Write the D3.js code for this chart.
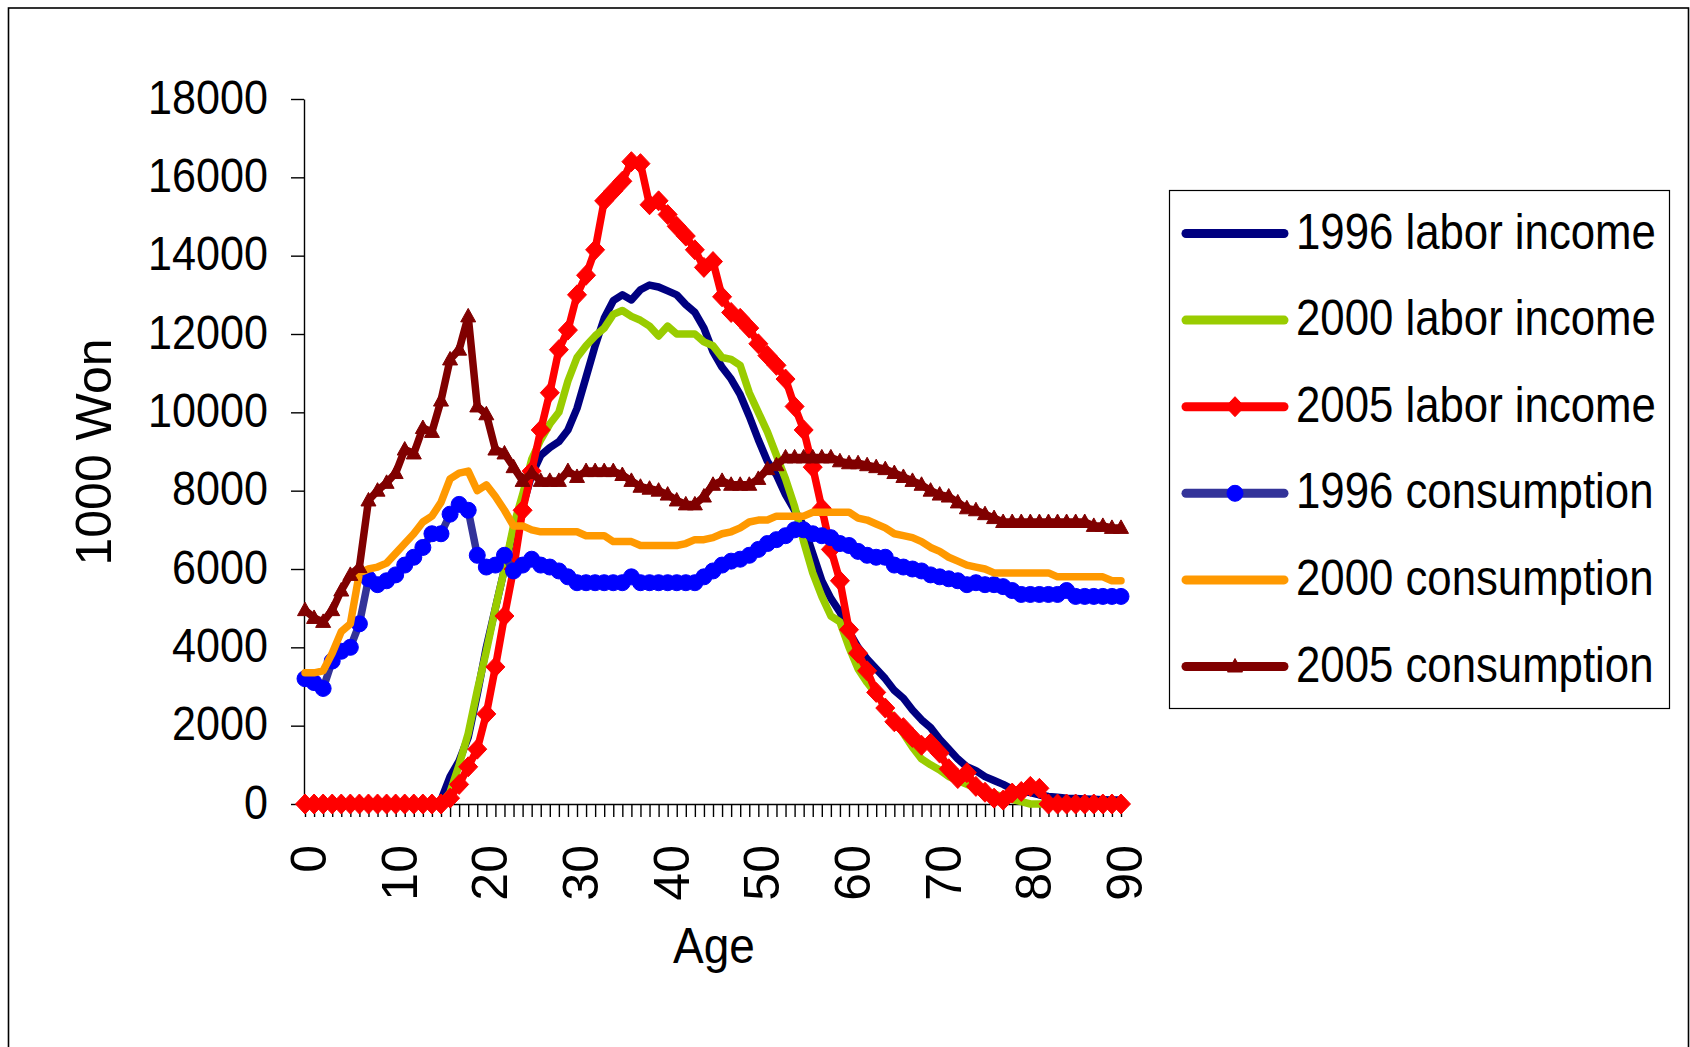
<!DOCTYPE html>
<html>
<head>
<meta charset="utf-8">
<script src="https://cdn.jsdelivr.net/npm/d3@7"></script>
<style>
body { margin: 0; background: #fff; }
text { font-family: "Liberation Sans", Arial, sans-serif; fill: #000; }
</style>
</head>
<body>
<div id="chart"></div>
<script>
var w = 1690,
	h = 1047;

// ages 0..90
var ages = d3.range(0, 91);
var yTicks = d3.range(0, 18001, 2000);

var labor1996 = [0,0,0,0,0,0,0,0,0,0,
	0,0,0,0,0,100,700,1100,1700,2800,
	4000,5000,6000,7000,7600,8400,8900,9100,9250,9550,
	10100,10900,11700,12400,12850,13000,12870,13130,13250,13200,
	13100,13000,12750,12550,12150,11550,11150,10850,10450,9900,
	9300,8750,8400,7900,7500,7100,6400,5700,5250,4900,
	4400,4000,3700,3450,3200,2900,2700,2400,2150,1950,
	1650,1400,1150,950,850,700,600,500,380,320,
	290,230,190,170,150,140,130,120,110,100,
	100];

var labor2000 = [0,0,0,0,0,0,0,0,0,0,
	0,0,0,0,0,0,300,1000,1800,2900,
	3900,5000,6000,7100,7900,8800,9300,9700,10000,10800,
	11400,11700,11950,12150,12500,12600,12450,12350,12200,11950,
	12200,12000,12000,12000,11800,11700,11400,11350,11200,10500,
	10000,9500,8900,8300,7600,6700,5900,5300,4800,4650,
	4000,3450,3100,2800,2500,2150,1800,1450,1150,1000,
	870,700,600,500,400,300,250,180,120,60,
	0,0,0,0,0,0,0,0,0,0,
	0];

var labor2005 = [0,0,0,0,0,0,0,0,0,0,
	0,0,0,0,0,0,150,500,950,1400,
	2300,3500,4800,6000,7500,8500,9550,10500,11600,12100,
	13000,13500,14150,15400,15650,15900,16400,16350,15300,15400,
	15050,14750,14500,14150,13700,13850,12950,12550,12400,12150,
	11750,11450,11200,10850,10150,9550,8600,7550,6500,5700,
	4450,3850,3400,2850,2450,2100,1950,1700,1500,1550,
	1300,900,650,800,450,300,150,100,280,320,
	450,400,0,0,0,0,0,0,0,0,
	0];

var cons1996 = [3200,3100,2950,3650,3900,4000,4600,5750,5600,5700,
	5850,6100,6300,6550,6900,6900,7400,7650,7500,6350,
	6050,6100,6350,5950,6100,6250,6100,6050,5950,5800,
	5650,5650,5650,5650,5650,5650,5800,5650,5650,5650,
	5650,5650,5650,5650,5800,5950,6100,6200,6250,6350,
	6500,6650,6750,6850,7000,7000,6900,6850,6800,6650,
	6600,6450,6350,6300,6300,6100,6050,6000,5950,5850,
	5800,5750,5700,5600,5650,5600,5600,5550,5450,5350,
	5350,5350,5350,5350,5450,5300,5300,5300,5300,5300,
	5300];

var cons2000 = [3350,3350,3400,3850,4400,4600,5900,6000,6050,6150,
	6400,6650,6900,7200,7350,7700,8300,8450,8500,8000,
	8150,7850,7500,7100,7100,7000,6950,6950,6950,6950,
	6950,6850,6850,6850,6700,6700,6700,6600,6600,6600,
	6600,6600,6650,6750,6750,6800,6900,6950,7050,7200,
	7250,7250,7350,7350,7350,7350,7450,7450,7450,7450,
	7450,7300,7250,7150,7050,6900,6850,6800,6700,6550,
	6450,6300,6200,6100,6050,6000,5900,5900,5900,5900,
	5900,5900,5900,5800,5800,5800,5800,5800,5800,5700,
	5700];

var cons2005 = [4950,4750,4650,4950,5450,5850,6050,7750,8000,8200,
	8450,9050,8950,9600,9500,10300,11350,11600,12450,10150,
	9950,9050,8950,8600,8250,8450,8250,8250,8250,8500,
	8350,8500,8500,8500,8500,8400,8250,8100,8050,8000,
	7900,7750,7650,7650,7850,8150,8250,8150,8150,8150,
	8300,8550,8650,8850,8850,8850,8850,8850,8850,8750,
	8700,8700,8650,8600,8550,8450,8350,8250,8150,8000,
	7900,7850,7700,7550,7500,7400,7300,7200,7200,7200,
	7200,7200,7200,7200,7200,7200,7200,7100,7100,7050,
	7050];

var names = ['1996 labor income', '2000 labor income', '2005 labor income',
	'1996 consumption', '2000 consumption', '2005 consumption'];
var lineColors = ['#000080', '#99CC00', '#FF0000', '#333399', '#FF9900', '#800000'];
var markColors = [null, null, '#FF0000', '#0000FF', null, '#800000'];
var markTypes = [null, null, 'diamond', 'circle', null, 'triangle'];
var values = [labor1996, labor2000, labor2005, cons1996, cons2000, cons2005];

var x = d3.scaleLinear().domain([0, 90]).range([305, 1121]);
var y = d3.scaleLinear().domain([0, 18000]).range([804, 99]);

var svg = d3.select('#chart').append('svg')
	.attr('width', w)
	.attr('height', h);

svg.append('rect')
	.attr('x', 8.5).attr('y', 8)
	.attr('width', 1680).attr('height', 1100)
	.style('fill', 'none').style('stroke', '#000').style('stroke-width', 1.6);

// y axis
var gy = svg.append('g')
	.attr('transform', 'translate(304,0)')
	.call(d3.axisLeft(y).tickValues(yTicks).tickSize(13).tickSizeOuter(0).tickFormat(d3.format('d')));
gy.selectAll('text')
	.attr('x', 0)
	.attr('dy', '0.29em')
	.attr('transform', 'translate(-36,0) scale(0.88,1)')
	.style('font-size', '49px')
	.style('text-anchor', 'end');

// x axis, tick every age, label every 10
var gx = svg.append('g')
	.attr('transform', 'translate(0,804)')
	.call(d3.axisBottom(x).tickValues(ages).tickSize(13).tickSizeOuter(0)
		.tickFormat(function(d) { return d % 10 == 0 ? d : ''; }));
gx.selectAll('text')
	.attr('x', 0).attr('y', 0)
	.attr('dy', '0.36em')
	.attr('transform', 'translate(2.5,41) rotate(-90)')
	.style('font-size', '50px')
	.style('text-anchor', 'end');

svg.selectAll('.domain, .tick line')
	.style('stroke', '#000').style('stroke-width', 1.4);

svg.append('text')
	.attr('transform', 'translate(714,963) scale(0.92,1)')
	.style('font-size', '50px')
	.style('text-anchor', 'middle')
	.text('Age');

svg.append('text')
	.attr('transform', 'translate(111,452) rotate(-90)')
	.style('font-size', '50px')
	.style('text-anchor', 'middle')
	.text('1000 Won');

function markerPath(type) {
	if (type == 'diamond') return 'M0,-10L9.5,0L0,10L-9.5,0Z';
	if (type == 'triangle') return 'M0,-8L7.5,5.5L-7.5,5.5Z';
	return d3.symbol().type(d3.symbolCircle).size(Math.PI * 8 * 8)();
}

var line = d3.line()
	.x(function(d, i) { return x(ages[i]); })
	.y(function(d) { return y(d); });

values.forEach(function(vals, s) {
	var g = svg.append('g');
	g.append('path')
		.datum(vals)
		.attr('d', line)
		.style('fill', 'none')
		.style('stroke', lineColors[s])
		.style('stroke-width', 7.5)
		.style('stroke-linejoin', 'round')
		.style('stroke-linecap', 'round');
	if (markTypes[s]) {
		g.selectAll('path.m')
			.data(vals)
			.enter().append('path')
			.attr('class', 'm')
			.attr('transform', function(d, i) { return 'translate(' + x(ages[i]) + ',' + y(d) + ')'; })
			.attr('d', markerPath(markTypes[s]))
			.style('fill', markColors[s])
			.style('stroke', markColors[s])
			.style('stroke-width', 1);
	}
});

// legend
var lg = svg.append('g');
lg.append('rect')
	.attr('x', 1169.5).attr('y', 190.5)
	.attr('width', 500).attr('height', 518)
	.style('fill', '#fff').style('stroke', '#000').style('stroke-width', 1.2);

names.forEach(function(name, s) {
	var cy = 233.5 + s * 86.6;
	lg.append('line')
		.attr('x1', 1186).attr('x2', 1284)
		.attr('y1', cy).attr('y2', cy)
		.style('stroke', lineColors[s])
		.style('stroke-width', 9)
		.style('stroke-linecap', 'round');
	if (markTypes[s]) {
		lg.append('path')
			.attr('transform', 'translate(1235,' + cy + ')')
			.attr('d', markerPath(markTypes[s]))
			.style('fill', markColors[s])
			.style('stroke', markColors[s]);
	}
	lg.append('text')
		.attr('transform', 'translate(1296,' + (cy + 15) + ') scale(0.875,1)')
		.style('font-size', '50px')
		.text(name);
});
</script>
</body>
</html>
